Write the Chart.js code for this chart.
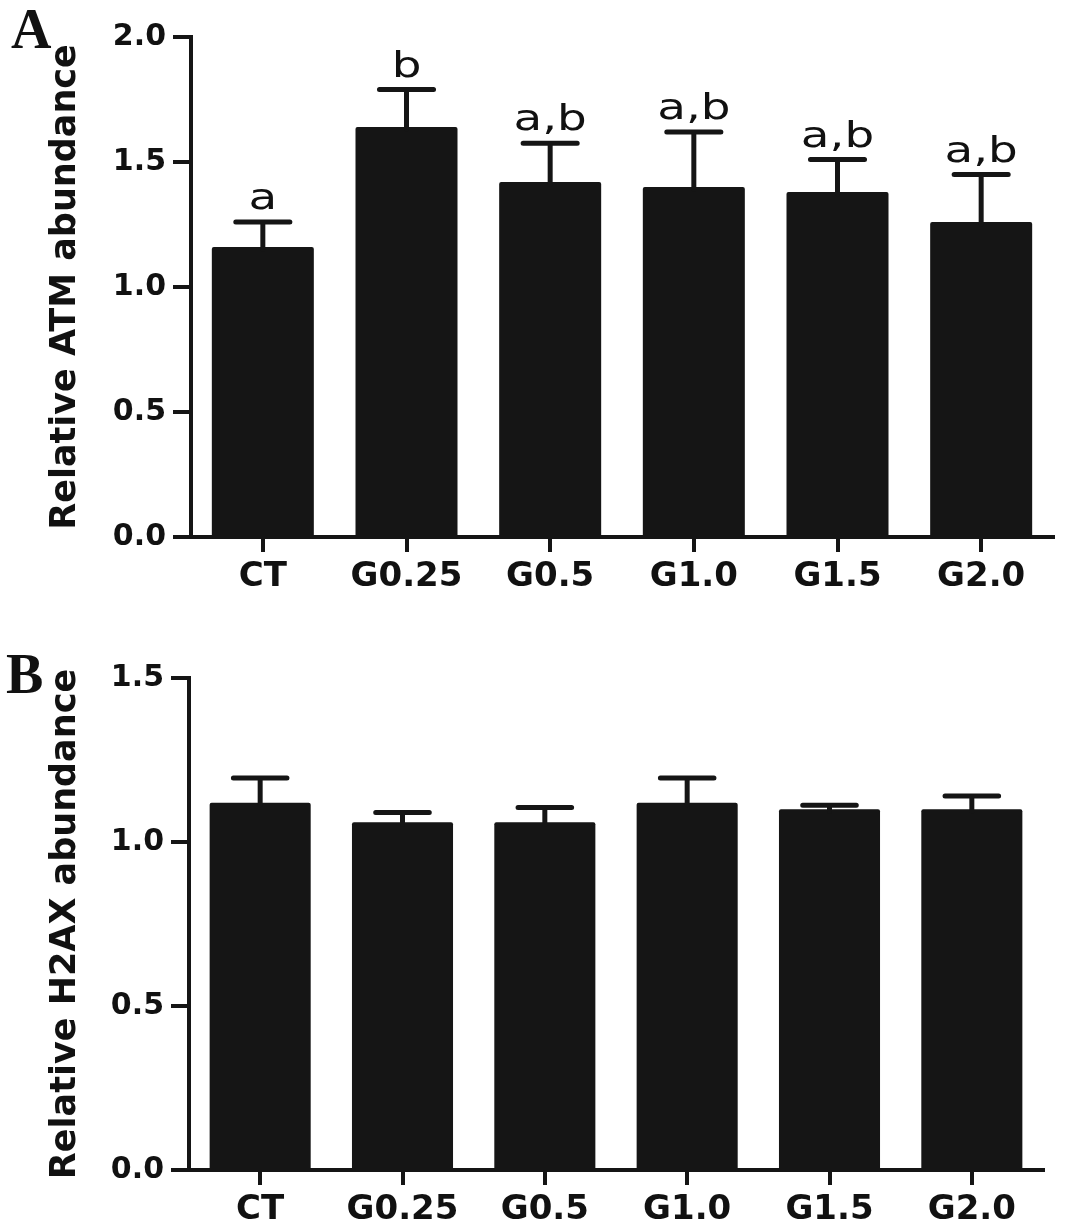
<!DOCTYPE html>
<html>
<head>
<meta charset="utf-8">
<script src="https://cdn.jsdelivr.net/npm/chart.js"></script>
<style>
  body { margin: 0; background: #fff; width: 1065px; height: 1230px; position: relative; overflow: hidden; }
  .panel { position: absolute; left: 0; width: 1065px; }
  .letter { position: absolute; font-family: "Liberation Serif", serif; font-weight: bold; font-size: 56px; line-height: 56px; color: #111; }
</style>
</head>
<body>
<div class="panel" style="top:0;height:610px"><canvas id="chartA" width="1065" height="610"></canvas></div>
<div class="panel" style="top:610px;height:620px"><canvas id="chartB" width="1065" height="620"></canvas></div>
<div class="letter" style="left:11px;top:1px">A</div>
<div class="letter" style="left:6px;top:646px">B</div>
<script>
// data
const categories = ['CT', 'G0.25', 'G0.5', 'G1.0', 'G1.5', 'G2.0'];
const atmMean = [1.16, 1.64, 1.42, 1.40, 1.38, 1.26];
const atmErr = [0.10, 0.15, 0.155, 0.22, 0.13, 0.19];
const atmLetters = ['a', 'b', 'a,b', 'a,b', 'a,b', 'a,b'];
const h2axMean = [1.12, 1.06, 1.06, 1.12, 1.10, 1.10];
const h2axErr = [0.075, 0.03, 0.045, 0.075, 0.012, 0.04];
const atmTicks = [0, 0.5, 1.0, 1.5, 2.0];
const h2axTicks = [0, 0.5, 1.0, 1.5];

const black = '#151515';

// error bars (upper only) and significance letters
const errorBarPlugin = {
  id: 'errorBars',
  afterDatasetsDraw(chart, args, opts) {
    const ctx = chart.ctx;
    const meta = chart.getDatasetMeta(0);
    const yScale = chart.scales.y;
    const means = chart.data.datasets[0].data;
    meta.data.forEach((bar, i) => {
      const top = yScale.getPixelForValue(means[i]);
      const capY = yScale.getPixelForValue(means[i] + opts.errors[i]);
      const half = bar.width * 0.265;
      ctx.save();
      ctx.strokeStyle = black;
      ctx.lineCap = 'round';
      ctx.lineWidth = 5;
      ctx.beginPath();
      ctx.moveTo(bar.x, top + 2);
      ctx.lineTo(bar.x, capY);
      ctx.moveTo(bar.x - half, capY);
      ctx.lineTo(bar.x + half, capY);
      ctx.stroke();
      if (opts.letters) {
        ctx.fillStyle = '#111';
        ctx.font = '36px "DejaVu Sans"';
        ctx.textAlign = 'center';
        ctx.textBaseline = 'alphabetic';
        ctx.translate(bar.x, capY - 13);
        ctx.scale(1.3, 1);
        ctx.fillText(opts.letters[i], 0, 0);
      }
      ctx.restore();
    });
  }
};

function makeChart(id, values, errors, letters, ticks, yMax, title, pad, yWidth, xHeight) {
  return new Chart(document.getElementById(id), {
    type: 'bar',
    data: {
      labels: categories,
      datasets: [{
        data: values,
        backgroundColor: black,
        borderRadius: 2,
        borderSkipped: 'bottom',
        categoryPercentage: 1.0,
        barPercentage: 0.71
      }]
    },
    options: {
      responsive: false,
      animation: false,
      devicePixelRatio: 1,
      layout: { padding: pad },
      plugins: {
        legend: { display: false },
        tooltip: { enabled: false },
        errorBars: { errors: errors, letters: letters }
      },
      scales: {
        x: {
          grid: { display: true, drawOnChartArea: false, offset: false, tickLength: 15, lineWidth: 4, color: black },
          border: { display: true, width: 4, color: black },
          ticks: { color: '#111', padding: 5, font: { family: 'DejaVu Sans', weight: 'bold', size: 34 } },
          afterFit: (s) => { s.height = xHeight; }
        },
        y: {
          min: 0,
          max: yMax,
          afterBuildTicks: (s) => { s.ticks = ticks.map(v => ({ value: v })); },
          grid: { display: true, drawOnChartArea: false, tickLength: 18, lineWidth: 4, color: black },
          border: { display: true, width: 4, color: black },
          ticks: {
            color: '#111', padding: 7,
            font: { family: 'DejaVu Sans', weight: 'bold', size: 30 },
            callback: (v) => Number(v).toFixed(1)
          },
          title: {
            display: true, text: title, color: '#111',
            padding: { top: 45, bottom: 0 },
            font: { family: 'DejaVu Sans', weight: 'bold', size: 35 }
          },
          afterFit: (s) => { s.width = yWidth; }
        }
      }
    },
    plugins: [errorBarPlugin]
  });
}

makeChart('chartA', atmMean, atmErr, atmLetters, atmTicks, 2.0,
  'Relative ATM abundance', { top: 37, right: 12, left: 0, bottom: 0 }, 191, 73);
makeChart('chartB', h2axMean, h2axErr, null, h2axTicks, 1.5,
  'Relative H2AX abundance', { top: 68, right: 22, left: 0, bottom: 0 }, 189, 60);
</script>
</body>
</html>
